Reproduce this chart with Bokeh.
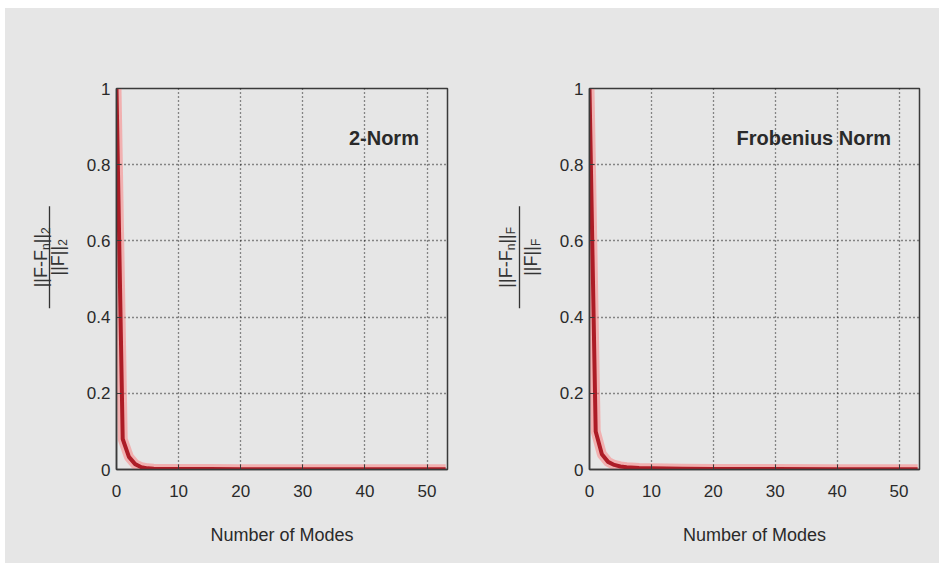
import math
from bokeh.plotting import figure
from bokeh.models import Range1d, FixedTicker, Label
from bokeh.core.properties import value
from bokeh.layouts import row
from bokeh.embed import file_html
from bokeh.resources import INLINE

# ---- data ----
modes_2norm = [0, 1, 2, 3, 4, 5, 6, 8, 10, 15, 20, 30, 40, 50, 53]
error_2norm = [1.0, 0.08, 0.033, 0.014, 0.006, 0.003, 0.002, 0.0015, 0.001, 0.001,
               0.0008, 0.0006, 0.0005, 0.0004, 0.0004]
modes_fro = [0, 1, 2, 3, 4, 5, 6, 8, 10, 15, 20, 30, 40, 50, 53]
error_fro = [1.0, 0.1, 0.04, 0.02, 0.012, 0.008, 0.006, 0.004, 0.003, 0.002,
             0.0015, 0.001, 0.0008, 0.0006, 0.0005]
x_ticks = [0, 10, 20, 30, 40, 50]
y_ticks = [0, 0.2, 0.4, 0.6, 0.8, 1]
y_tick_labels = ["0", "0.2", "0.4", "0.6", "0.8", "1"]
x_label = "Number of Modes"
panel_titles = ["2-Norm", "Frobenius Norm"]
# y-label fractions: (text, is_subscript)
num_2norm = [("||F-F", False), ("n", True), ("||", False), ("2", True)]
den_2norm = [("||F||", False), ("2", True)]
num_fro = [("||F-F", False), ("n", True), ("||", False), ("F", True)]
den_fro = [("||F||", False), ("F", True)]

BG = "#e6e6e6"
FONT = "Liberation Sans"
CW = {"|": 0.26, "F": 0.611, "-": 0.333, "n": 0.556, "2": 0.556}
FRAME_TOP, FRAME_H, FIG_H = 80, 381, 555


def text_w(t, size):
    return sum(CW.get(c, 0.55) for c in t) * size


def label_fig(width, num, den, xs, y_center=0.557, base=18, sub=12):
    """Narrow panel left of a plot that holds the rotated fraction label."""
    f = figure(width=width, height=FIG_H, output_backend="svg", toolbar_location=None,
               x_range=Range1d(0, width), y_range=Range1d(0, 1),
               min_border_left=0, min_border_right=0,
               min_border_top=FRAME_TOP, min_border_bottom=FIG_H - FRAME_TOP - FRAME_H)
    f.axis.visible = False
    f.grid.visible = False
    f.outline_line_color = None
    f.background_fill_color = BG
    f.border_fill_color = BG
    x_num, x_bar, x_den = xs
    for parts, xc in ((num, x_num), (den, x_den)):
        sizes = [sub if s else base for _, s in parts]
        total = sum(text_w(t, sz) for (t, _), sz in zip(parts, sizes))
        cum = -total / 2
        for (t, is_sub), sz in zip(parts, sizes):
            f.text(x=[xc + (5 if is_sub else 0)], y=[y_center + cum / FRAME_H], text=[t],
                   angle=math.pi / 2, text_align="left", text_baseline="middle",
                   text_font=value(FONT), text_font_size=f"{sz}px",
                   text_color="#333333")
            cum += text_w(t, sz)
    half = 51 / FRAME_H
    f.segment(x0=[x_bar], y0=[y_center - half], x1=[x_bar], y1=[y_center + half],
              line_color="#333333", line_width=1.3)
    return f


def make_panel(modes, err, title, width, bl, br):
    p = figure(width=width, height=FIG_H, output_backend="svg", toolbar_location=None,
               x_range=Range1d(0, 53.3), y_range=Range1d(0, 1),
               min_border_left=bl, min_border_right=br,
               min_border_top=FRAME_TOP, min_border_bottom=FIG_H - FRAME_TOP - FRAME_H)
    p.background_fill_color = BG
    p.border_fill_color = BG
    p.outline_line_color = "#3a3a3a"
    p.outline_line_width = 1.5

    p.xaxis.ticker = FixedTicker(ticks=x_ticks)
    p.yaxis.ticker = FixedTicker(ticks=y_ticks)
    p.yaxis.major_label_overrides = {t: l for t, l in zip(y_ticks, y_tick_labels)}
    for ax in (p.xaxis[0], p.yaxis[0]):
        ax.axis_line_color = "#3a3a3a"
        ax.axis_line_width = 1.5
        ax.major_tick_in = 5
        ax.major_tick_out = 0
        ax.major_tick_line_color = "#3a3a3a"
        ax.minor_tick_line_color = None
        ax.major_label_text_font = FONT
        ax.major_label_text_font_size = "17px"
        ax.major_label_text_color = "#2a2a2a"
    p.yaxis.major_label_standoff = 6
    p.xaxis.major_label_standoff = 15
    p.xaxis.axis_label = x_label
    p.xaxis.axis_label_text_font = FONT
    p.xaxis.axis_label_text_font_size = "18px"
    p.xaxis.axis_label_text_font_style = "normal"
    p.xaxis.axis_label_text_color = "#2a2a2a"
    p.xaxis.axis_label_standoff = 25

    for g in (p.xgrid[0], p.ygrid[0]):
        g.grid_line_color = "black"
        g.grid_line_dash = "1 3"
        g.grid_line_width = 1.3
        g.grid_line_alpha = 0.85
    p.xgrid.ticker = FixedTicker(ticks=x_ticks)
    p.ygrid.ticker = FixedTicker(ticks=y_ticks)

    p.line(modes, err, line_width=10, color="#ff6f6f", alpha=0.45, line_join="round")
    p.line(modes, err, line_width=4, color="#ad1c26", line_join="round")

    p.add_layout(Label(x=48.7, y=0.869, text=title, text_align="right",
                       text_baseline="middle", text_font=FONT,
                       text_font_style="bold", text_font_size="20px",
                       text_color="#2a2a2a"))
    return p


l1 = label_fig(75, num_2norm, den_2norm, (35, 44, 52))
p1 = make_panel(modes_2norm, error_2norm, panel_titles[0], 392, 36, 25)
l2 = label_fig(80, num_fro, den_fro, (33, 47, 58))
p2 = make_panel(modes_fro, error_fro, panel_titles[1], 387, 37, 20)

layout = row(l1, p1, l2, p2, spacing=0, margin=(8, 0, 0, 5),
             styles={"background-color": BG})
open("out.html", "w").write(file_html(layout, INLINE))
